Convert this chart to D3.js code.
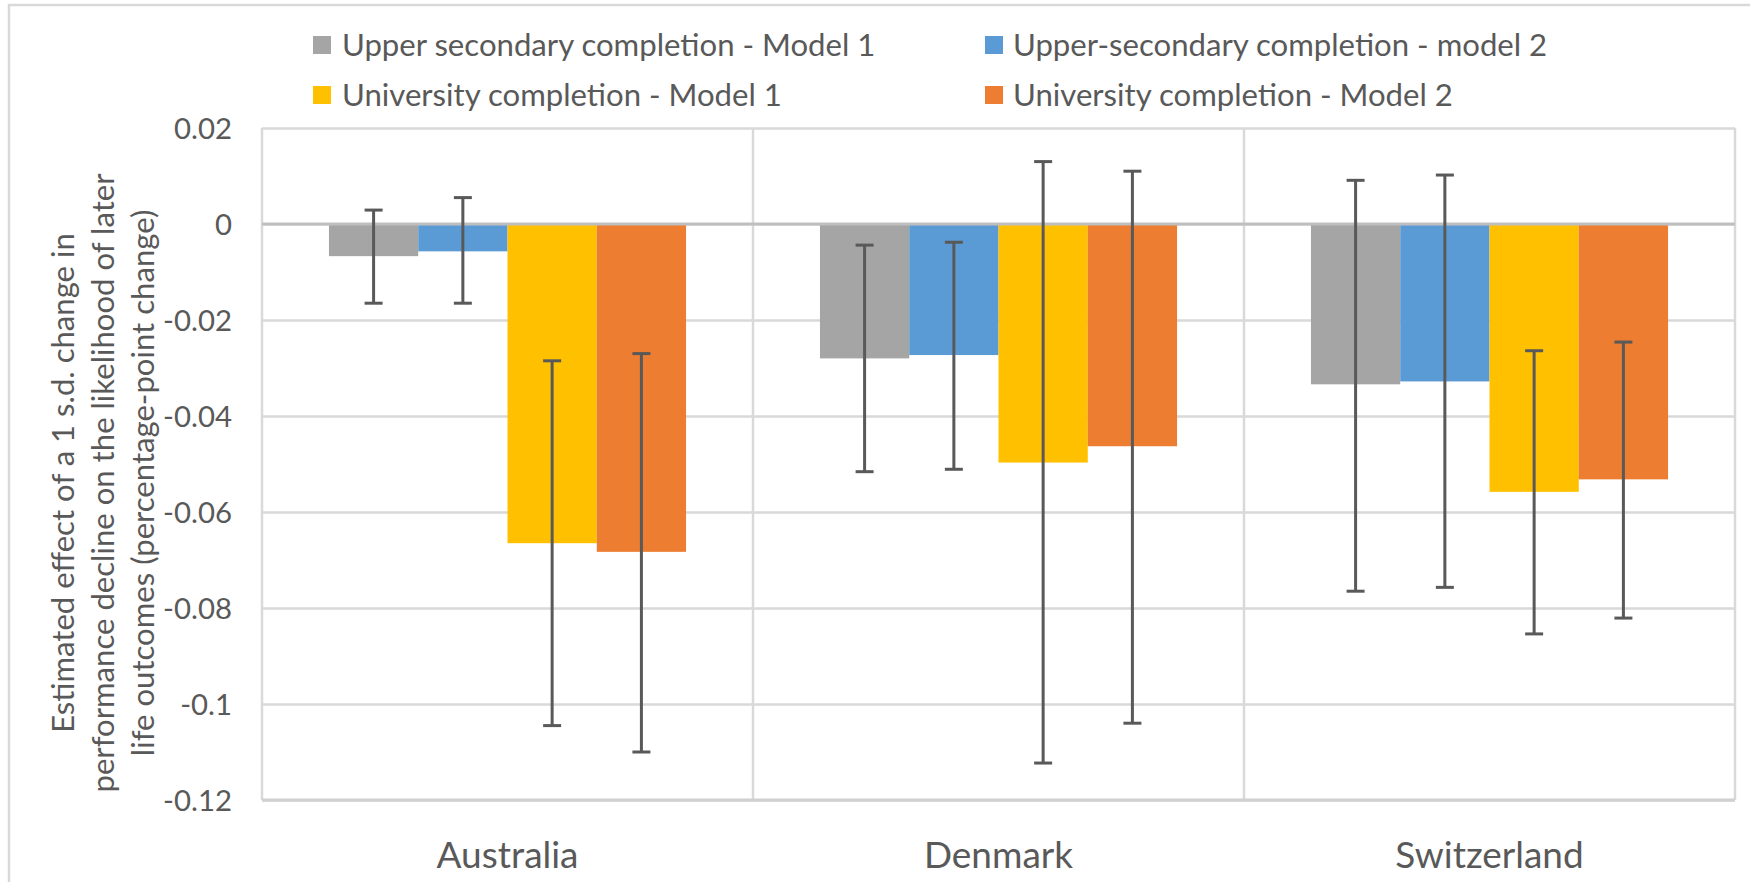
<!DOCTYPE html>
<html>
<head>
<meta charset="utf-8">
<script src="https://cdn.jsdelivr.net/npm/d3@7"></script>
<style>
  html, body { margin: 0; padding: 0; background: #fff; }
  svg { display: block; }
  text { font-family: Lato, "Noto Sans", sans-serif; fill: #595959; }
</style>
</head>
<body>
<svg id="chart" width="1750" height="882"></svg>
<script>
// ---- data ----
const categories = ["Australia", "Denmark", "Switzerland"];
const seriesNames = [
  "Upper secondary completion - Model 1",
  "Upper-secondary completion - model 2",
  "University completion - Model 1",
  "University completion - Model 2"
];
const seriesColors = ["#A5A5A5", "#5B9BD5", "#FFC000", "#ED7D31"];

const upperSecModel1 = [-0.0067, -0.0280, -0.0334];
const upperSecModel2 = [-0.0057, -0.0273, -0.0328];
const univModel1     = [-0.0665, -0.0497, -0.0558];
const univModel2     = [-0.0683, -0.0463, -0.0532];

const upperSecModel1Low  = [-0.0165, -0.0516, -0.0765];
const upperSecModel1High = [ 0.0029, -0.0044,  0.0091];
const upperSecModel2Low  = [-0.0165, -0.0511, -0.0757];
const upperSecModel2High = [ 0.0055, -0.0038,  0.0102];
const univModel1Low      = [-0.1045, -0.1123, -0.0854];
const univModel1High     = [-0.0285,  0.0130, -0.0264];
const univModel2Low      = [-0.1100, -0.1040, -0.0821];
const univModel2High     = [-0.0270,  0.0110, -0.0246];

const yTickValues = [0.02, 0, -0.02, -0.04, -0.06, -0.08, -0.1, -0.12];
const yTickLabels = ["0.02", "0", "-0.02", "-0.04", "-0.06", "-0.08", "-0.1", "-0.12"];

const yTitleLines = [
  "Estimated effect of a 1 s.d. change in",
  "performance decline on the likelihood of later",
  "life outcomes (percentage-point change)"
];

const seriesValues = [upperSecModel1, upperSecModel2, univModel1, univModel2];
const seriesLow = [upperSecModel1Low, upperSecModel2Low, univModel1Low, univModel2Low];
const seriesHigh = [upperSecModel1High, upperSecModel2High, univModel1High, univModel2High];

// table built from arrays
const rows = [];
categories.forEach((c, ci) => {
  seriesNames.forEach((s, si) => {
    rows.push({ cat: c, series: s, si, value: seriesValues[si][ci], low: seriesLow[si][ci], high: seriesHigh[si][ci] });
  });
});

// ---- layout ----
const svg = d3.select("#chart");
const plot = { left: 262, right: 1735, top: 128, bottom: 800 };
const textColor = "#595959";
const gridColor = "#D9D9D9";

// helper: font size that makes a sample string a given width
function fitSize(sample, target, weight) {
  const t = svg.append("text").attr("font-size", 100).attr("font-weight", weight || 400).text(sample);
  const w = t.node().getComputedTextLength();
  t.remove();
  return 100 * target / w;
}
const legendSize = fitSize("University completion - Model 1", 440);
const tickSize = fitSize("0.02", 58);
const catSize = fitSize("Australia", 142);
const titleSize = fitSize(yTitleLines[0], 500);

// outer chart border
svg.append("rect")
  .attr("x", 9).attr("y", 5).attr("width", 1800).attr("height", 900)
  .attr("fill", "none").attr("stroke", gridColor).attr("stroke-width", 2.5);

// scales
const x0 = d3.scaleBand().domain(categories).range([plot.left, plot.right]).paddingInner(0).paddingOuter(0);
const x1 = d3.scaleBand().domain(seriesNames).range([0, x0.bandwidth()]).paddingInner(0).paddingOuter(0.75);
const y = d3.scaleLinear().domain([-0.12, 0.02]).range([plot.bottom, plot.top]);
const color = d3.scaleOrdinal().domain(seriesNames).range(seriesColors);

// horizontal gridlines
const grid = svg.append("g")
  .attr("transform", `translate(${plot.left},0)`)
  .call(d3.axisLeft(y).tickValues(yTickValues).tickSize(-(plot.right - plot.left)).tickFormat(""));
grid.select(".domain").remove();
grid.selectAll(".tick line").attr("stroke", gridColor).attr("stroke-width", 2.5);

// vertical category gridlines (frame left/right + separators)
const vEdges = categories.map(c => x0(c)).concat([plot.right]);
svg.append("g").selectAll("line").data(vEdges).join("line")
  .attr("x1", d => d).attr("x2", d => d)
  .attr("y1", plot.top).attr("y2", plot.bottom)
  .attr("stroke", gridColor).attr("stroke-width", 2.5);

// bottom axis line
svg.append("line")
  .attr("x1", plot.left).attr("x2", plot.right)
  .attr("y1", plot.bottom).attr("y2", plot.bottom)
  .attr("stroke", "#D0D0D0").attr("stroke-width", 3);

// bars
svg.append("g").selectAll("rect").data(rows).join("rect")
  .attr("x", d => x0(d.cat) + x1(d.series))
  .attr("width", x1.bandwidth())
  .attr("y", d => Math.min(y(0), y(d.value)))
  .attr("height", d => Math.abs(y(d.value) - y(0)))
  .attr("fill", d => color(d.series));

// zero line
svg.append("line")
  .attr("x1", plot.left).attr("x2", plot.right)
  .attr("y1", y(0)).attr("y2", y(0))
  .attr("stroke", "#BFBFBF").attr("stroke-width", 3);

// error bars
const eb = svg.append("g").attr("stroke", "#595959").attr("stroke-width", 3);
const capW = 18;
const cx = d => x0(d.cat) + x1(d.series) + x1.bandwidth() / 2;
eb.selectAll("line.v").data(rows).join("line").attr("class", "v")
  .attr("x1", cx).attr("x2", cx)
  .attr("y1", d => y(d.high)).attr("y2", d => y(d.low));
eb.selectAll("line.ct").data(rows).join("line").attr("class", "ct")
  .attr("x1", d => cx(d) - capW / 2).attr("x2", d => cx(d) + capW / 2)
  .attr("y1", d => y(d.high)).attr("y2", d => y(d.high));
eb.selectAll("line.cb").data(rows).join("line").attr("class", "cb")
  .attr("x1", d => cx(d) - capW / 2).attr("x2", d => cx(d) + capW / 2)
  .attr("y1", d => y(d.low)).attr("y2", d => y(d.low));

// y tick labels
const yAxis = svg.append("g")
  .attr("transform", `translate(232,0)`)
  .call(d3.axisLeft(y).tickValues(yTickValues).tickSize(0).tickPadding(0)
    .tickFormat((d, i) => yTickLabels[i]));
yAxis.select(".domain").remove();
yAxis.selectAll("text")
  .attr("font-family", "Lato, sans-serif")
  .attr("font-size", tickSize)
  .attr("fill", textColor)
  .attr("dy", "0.35em");

// category labels
const xAxis = svg.append("g")
  .attr("transform", `translate(0,${plot.bottom})`)
  .call(d3.axisBottom(x0).tickSize(0).tickPadding(0));
xAxis.select(".domain").remove();
xAxis.selectAll("text")
  .attr("font-family", "Lato, sans-serif")
  .attr("font-size", catSize)
  .attr("fill", textColor)
  .attr("y", 68)
  .attr("dy", 0);

// y axis title
const titleG = svg.append("g").attr("transform", "translate(103,483) rotate(-90)");
titleG.selectAll("text").data(yTitleLines).join("text")
  .attr("x", 0)
  .attr("y", (d, i) => (i - 1) * 40)
  .attr("dy", "0.35em")
  .attr("text-anchor", "middle")
  .attr("font-size", titleSize)
  .text(d => d);

// legend
const legendPos = [
  { sx: 313, tx: 342, cy: 45 },
  { sx: 985, tx: 1013, cy: 45 },
  { sx: 313, tx: 342, cy: 95 },
  { sx: 985, tx: 1013, cy: 95 }
];
const leg = svg.append("g").selectAll("g").data(seriesNames).join("g");
leg.append("rect")
  .attr("x", (d, i) => legendPos[i].sx)
  .attr("y", (d, i) => legendPos[i].cy - 9)
  .attr("width", 18).attr("height", 18)
  .attr("fill", d => color(d));
leg.append("text")
  .attr("x", (d, i) => legendPos[i].tx)
  .attr("y", (d, i) => legendPos[i].cy)
  .attr("dy", "0.35em")
  .attr("font-size", legendSize)
  .text(d => d);
</script>
</body>
</html>
